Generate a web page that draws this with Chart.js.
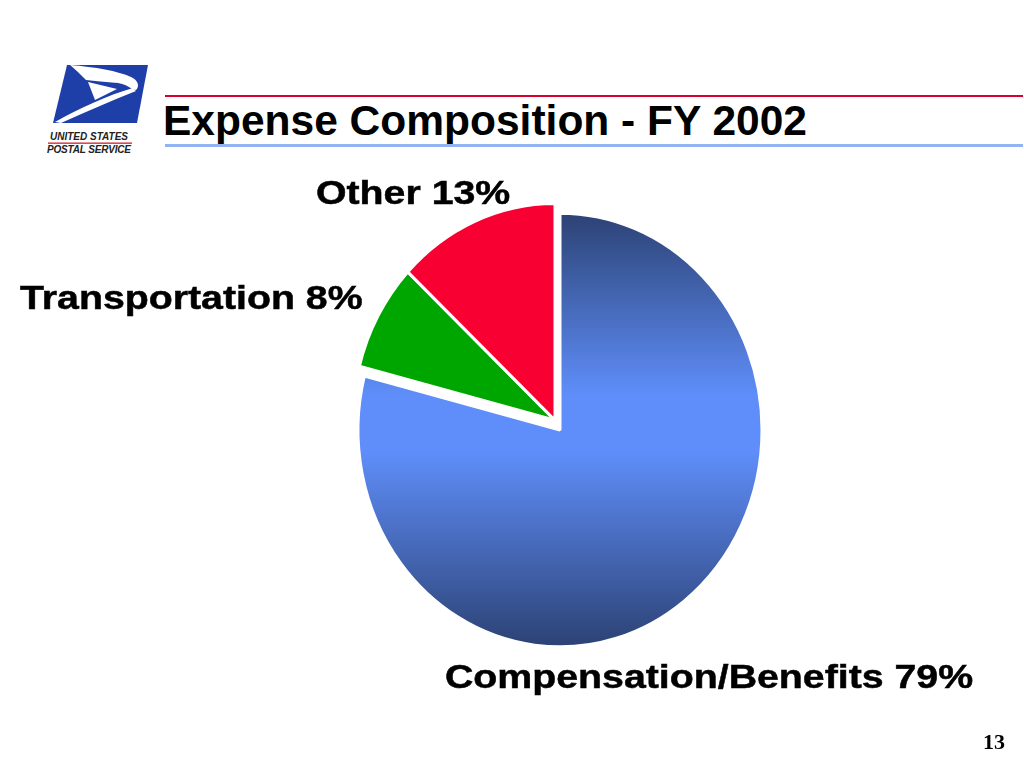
<!DOCTYPE html>
<html>
<head>
<meta charset="utf-8">
<script src="https://cdn.jsdelivr.net/npm/chart.js@4.4.1/dist/chart.umd.min.js"></script>
<style>
  html, body { margin: 0; padding: 0; background: #fff; }
  body { width: 1024px; height: 768px; position: relative; overflow: hidden; font-family: "Liberation Sans", Arial, sans-serif; }
  #pie { position: absolute; left: 0; top: 0; }
  .title { position: absolute; left: 163px; top: 100px; font-size: 42.5px; line-height: 42px; font-weight: bold; color: #000; white-space: nowrap; }
  .rule { position: absolute; left: 165px; width: 858px; }
  .lbl { position: absolute; font-size: 34px; line-height: 34px; font-weight: bold; color: #000; white-space: nowrap; transform: scaleX(1.155); transform-origin: left top; -webkit-text-stroke: 0.5px #000; }
  .page { position: absolute; left: 983px; top: 731px; font-family: "Liberation Serif", "Times New Roman", serif; font-weight: bold; font-size: 22px; line-height: 22px; }
  #logo { position: absolute; left: 0; top: 0; }
</style>
</head>
<body>
<svg id="logo" width="160" height="160" viewBox="0 0 160 160">
  <polygon points="67,65 148,65 137,123 53,123" fill="#1E3FA8"/>
  <path d="M70,65 C95,67 118,71 131,77 C138,80 140,86 136,90 L132,89 C128,86 124,84 118,83 C105,82 95,81 86,80 C80,74 75,69 70,65 Z" fill="#fff"/>
  <polygon points="88,82 95,100 117,89" fill="#fff"/>
  <path d="M55,122 C80,108 108,95 133,88 L136,91 C110,101 86,112 61,123 Z" fill="#fff"/>
  <text x="50" y="140" font-family="Liberation Sans, Arial" font-weight="bold" font-style="italic" font-size="10" textLength="78" lengthAdjust="spacing" fill="#222">UNITED STATES</text>
  <rect x="48" y="142.5" width="84" height="1.3" fill="#D0202A"/>
  <text x="47" y="152.5" font-family="Liberation Sans, Arial" font-weight="bold" font-style="italic" font-size="10" textLength="84" lengthAdjust="spacing" fill="#222">POSTAL SERVICE</text>
</svg>
<div class="rule" style="top:95px;height:2px;background:#D8002C;"></div>
<div class="title">Expense Composition - FY 2002</div>
<div class="rule" style="top:144px;height:3px;background:#92B4F2;"></div>
<canvas id="pie" width="1024" height="768"></canvas>
<div id="labels"></div>
<div class="page">13</div>
<script>
// Expense composition FY 2002 (percent of total)
const categories = ['Compensation/Benefits', 'Transportation', 'Other'];
const shares = [79, 8, 13];
const sliceColors = ['#6090FF', '#00A600', '#F80032'];
// Transportation + Other are pulled out together, as one group
const exploded = [false, true, true];
const groupShift = { dx: -5, dy: -9 };

// label boxes (left, top) in page pixels
const labelSpots = [[445, 659], [20, 280], [316, 175]];

const labelsBox = document.getElementById('labels');
categories.forEach(function (name, i) {
    const d = document.createElement('div');
    d.className = 'lbl';
    d.style.left = labelSpots[i][0] + 'px';
    d.style.top = labelSpots[i][1] + 'px';
    d.textContent = name + ' ' + shares[i] + '%';
    labelsBox.appendChild(d);
});

const pieRadius = 202;
// slide pie is slightly taller than wide
const stretchY = 1.074;
const slidePiePlugin = {
    id: 'slidePie',
    beforeDatasetsDraw(chart) {
        const arc = chart.getDatasetMeta(0).data[0];
        const ctx = chart.ctx;
        ctx.save();
        ctx.translate(arc.x, arc.y);
        ctx.scale(1, stretchY);
        ctx.translate(-arc.x, -arc.y);
    },
    beforeDatasetDraw(chart, args) {
        const ctx = chart.ctx;
        args.meta.data.forEach(function (arc, i) {
            ctx.save();
            if (exploded[i]) ctx.translate(groupShift.dx, groupShift.dy);
            arc.draw(ctx);
            ctx.restore();
        });
        return false;
    },
    afterDatasetsDraw(chart) {
        chart.ctx.restore();
    }
};

function blueGradient(context) {
    const area = context.chart.chartArea;
    if (!area) return sliceColors[0];
    const cy = (area.top + area.bottom) / 2;
    const g = context.chart.ctx.createLinearGradient(0, cy - pieRadius, 0, cy + pieRadius);
    g.addColorStop(0, '#2C4274');
    g.addColorStop(0.42, '#5F8EFA');
    g.addColorStop(0.55, '#5F8EFA');
    g.addColorStop(1, '#2C4274');
    return g;
}

new Chart(document.getElementById('pie'), {
    type: 'pie',
    data: {
        labels: categories,
        datasets: [{
            data: shares,
            backgroundColor: function (context) {
                if (context.dataIndex === 0) return blueGradient(context);
                return sliceColors[context.dataIndex];
            },
            borderColor: '#ffffff',
            borderWidth: 3,
            radius: pieRadius
        }]
    },
    options: {
        responsive: false,
        animation: false,
        layout: {
            padding: { left: 340, right: 244, top: 210, bottom: 118 }
        },
        plugins: {
            legend: { display: false },
            tooltip: { enabled: false }
        }
    },
    plugins: [slidePiePlugin]
});
</script>
</body>
</html>
